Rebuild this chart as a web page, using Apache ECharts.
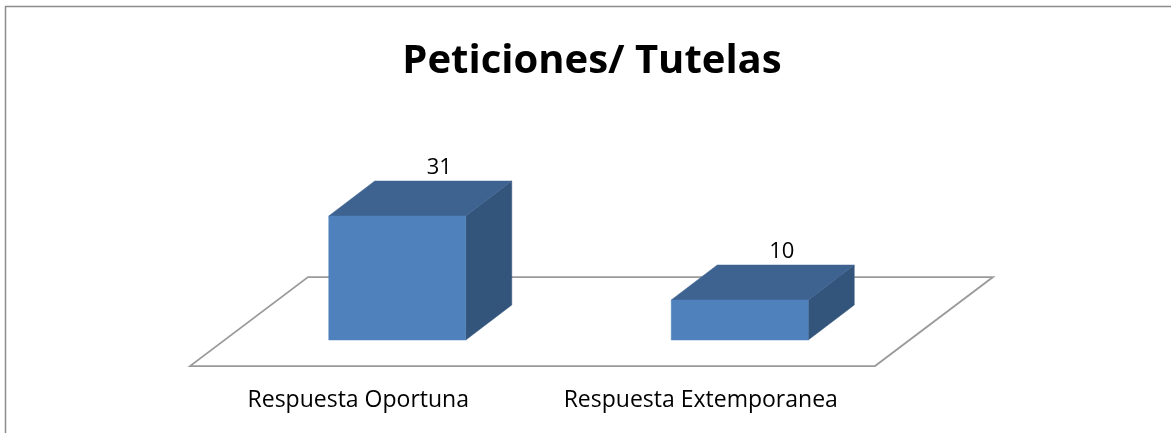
<!DOCTYPE html>
<html>
<head>
<meta charset="utf-8">
<style>
  html, body { margin: 0; padding: 0; background: #fff; }
  #main { width: 1171px; height: 433px; }
</style>
<script src="https://cdn.jsdelivr.net/npm/echarts@6/dist/echarts.min.js"></script>
</head>
<body>
<div id="main"></div>
<script>
// datos del grafico
const categories = ['Respuesta Oportuna', 'Respuesta Extemporanea'];
const values = [31, 10];
const titleText = 'Peticiones/ Tutelas';

// profundidad de la caja y del piso
const boxDepth = [46, -35];
const floorDepth = [118, -89];
const boxShift = [36, -26];
const fontName = '"Open Sans", sans-serif';

const myChart = echarts.init(document.getElementById('main'));

// barra 3D: cara frontal, superior y lateral
function renderBox(params, api) {
  const i = api.value(0);
  const v = api.value(1);
  const base = api.coord([i, 0]);
  const top = api.coord([i, v]);
  const w = api.size([1, 0])[0] * 0.4;
  const x0 = base[0] + boxShift[0] - w / 2;
  const x1 = x0 + w;
  const y0 = base[1] + boxShift[1];
  const y1 = top[1] + boxShift[1];
  const dx = boxDepth[0];
  const dy = boxDepth[1];
  const face = (points, fill) => ({
    type: 'polygon',
    shape: { points },
    style: { fill, stroke: fill, lineWidth: 0.5 }
  });
  return {
    type: 'group',
    children: [
      face([[x1, y0], [x1 + dx, y0 + dy], [x1 + dx, y1 + dy], [x1, y1]], '#33547b'),
      face([[x0, y1], [x1, y1], [x1 + dx, y1 + dy], [x0 + dx, y1 + dy]], '#3e6391'),
      face([[x0, y0], [x1, y0], [x1, y1], [x0, y1]], '#4f81bd'),
      {
        type: 'text',
        style: {
          x: (x0 + x1) / 2 + 42,
          y: y1 + dy - 2,
          text: String(v),
          fill: '#000',
          font: '22px ' + fontName,
          align: 'center',
          verticalAlign: 'bottom'
        }
      }
    ]
  };
}

// piso del grafico
function renderFloor(params, api) {
  const c = params.coordSys;
  const yb = c.y + c.height;
  const [dx, dy] = floorDepth;
  return {
    type: 'polygon',
    shape: {
      points: [[c.x, yb], [c.x + c.width, yb], [c.x + c.width + dx, yb + dy], [c.x + dx, yb + dy]]
    },
    style: { fill: '#fff', stroke: '#9a9a9a', lineWidth: 1.75 }
  };
}

const options = {
  animation: false,
  backgroundColor: '#fff',
  title: {
    text: titleText,
    left: 587,
    top: 37,
    textAlign: 'center',
    textStyle: { fontFamily: fontName, fontSize: 40, fontWeight: 'bold', color: '#000' }
  },
  grid: { left: 190, right: 296, top: 166, bottom: 67 },
  xAxis: {
    type: 'category',
    data: categories,
    axisLine: { show: false },
    axisTick: { show: false },
    axisLabel: { interval: 0, hideOverlap: false, margin: 23, padding: [0, 6, 0, 0], fontFamily: fontName, fontSize: 23, color: '#000' }
  },
  yAxis: { type: 'value', min: 0, max: 50, show: false },
  // marco de la imagen
  graphic: [{
    type: 'polyline',
    shape: { points: [[5.5, 433], [5.5, 6.5], [1171, 6.5]] },
    style: { fill: 'none', stroke: '#8c8c8c', lineWidth: 1.5 }
  }],
  series: [
    { type: 'custom', renderItem: renderFloor, data: [0], z: 1, silent: true },
    {
      type: 'custom',
      renderItem: renderBox,
      encode: { x: 0, y: 1 },
      data: values.map((v, i) => [i, v]),
      z: 2
    }
  ]
};
myChart.setOption(options);
</script>
</body>
</html>
